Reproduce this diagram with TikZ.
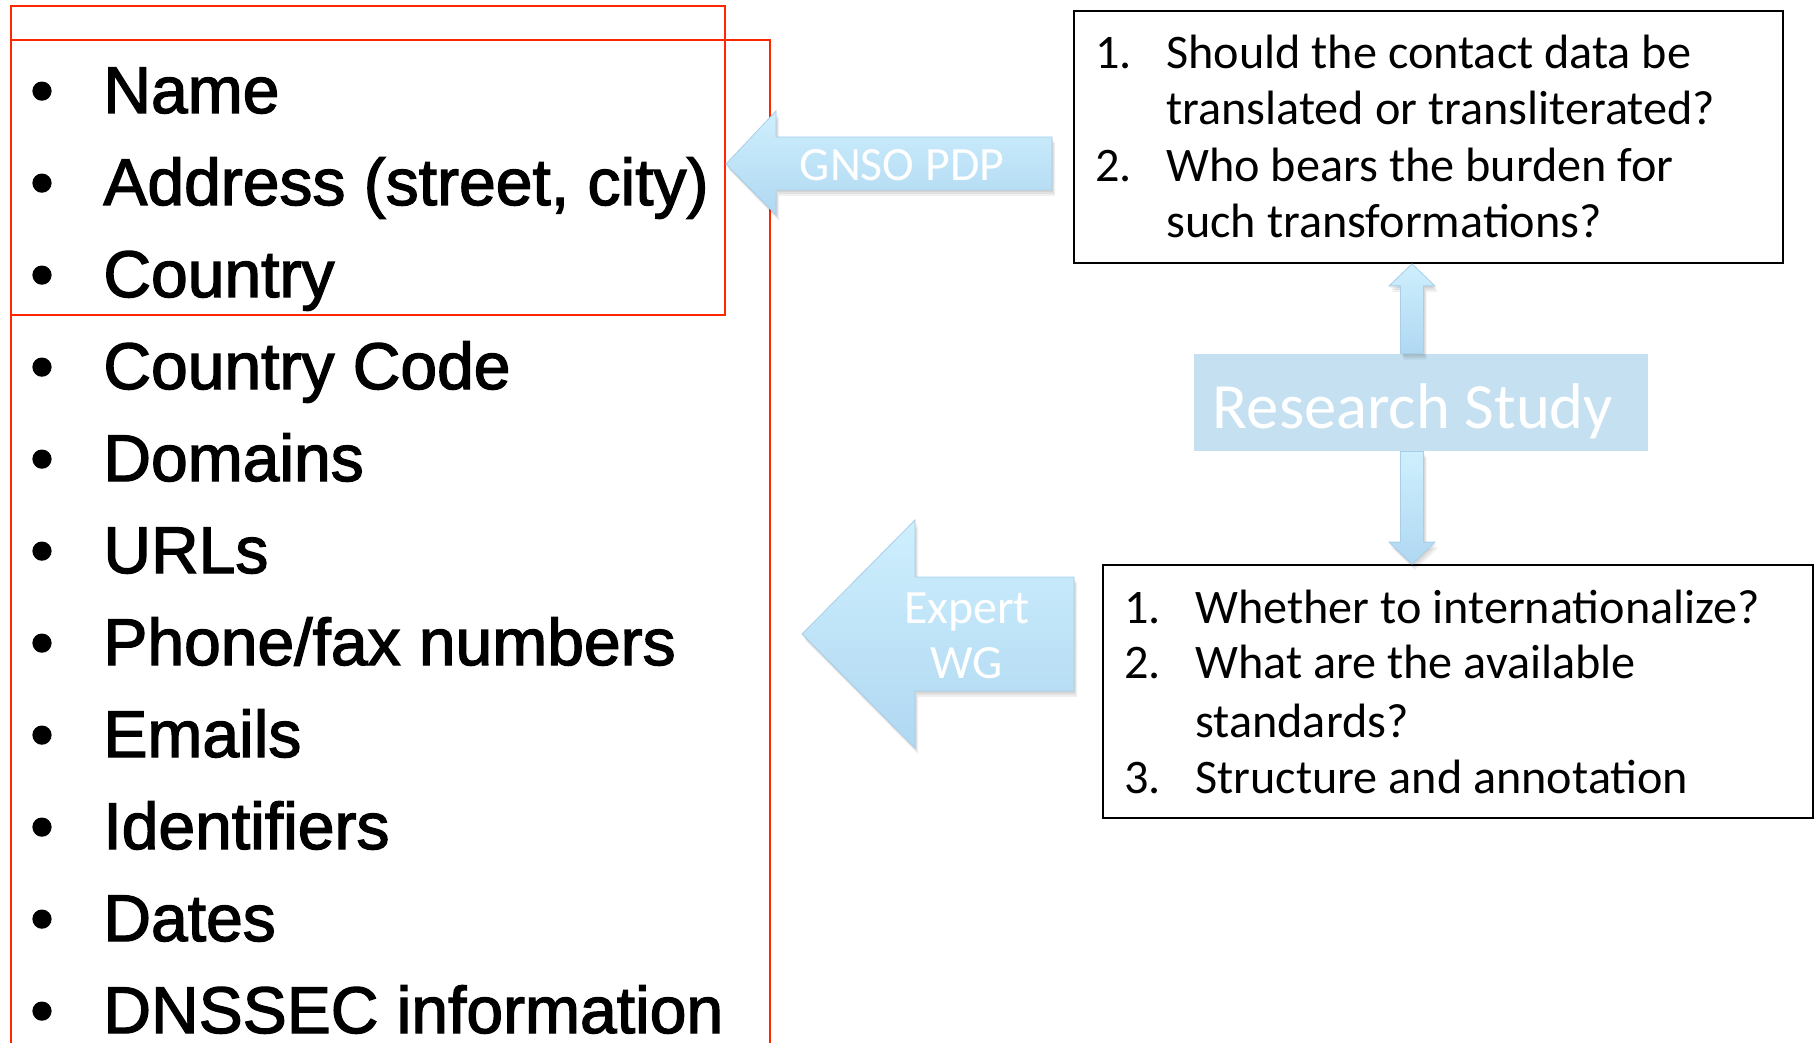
\documentclass[tikz,border=0pt]{standalone}
\usepackage{fontspec}
\setmainfont{Liberation Sans}
\newfontfamily\listfont[FakeBold=2]{Liberation Sans}
\newfontfamily\calibri{Carlito}
\usetikzlibrary{calc}

\definecolor{redline}{RGB}{255,38,0}
\definecolor{arrowtop}{RGB}{206,239,253}
\definecolor{arrowbot}{RGB}{176,216,242}
\definecolor{arrowedge}{RGB}{168,207,233}
\definecolor{studyblue}{RGB}{197,225,241}

% arrow outlines (pixel units)
\newcommand\gnsoshape{(726,164) -- (776,111) -- (776,137) -- (1052,137) -- (1052,190) -- (776,190) -- (776,215) -- cycle}
\newcommand\expertshape{(802,634) -- (915,520) -- (915,577) -- (1074,577) -- (1074,691) -- (915,691) -- (915,748) -- cycle}
% vertical block arrow: #1 tip, #2 tail, #3 head side (+1 below tip, -1 above), #4,#5 offset
\newcommand\vertshape[5]{($(#2)+(-11.5+#4,#5)$) -- ($(#1)+(-11.5+#4,22*#3+#5)$) -- ($(#1)+(-23+#4,22*#3+#5)$) -- ($(#1)+(#4,#5)$) -- ($(#1)+(23+#4,22*#3+#5)$) -- ($(#1)+(11.5+#4,22*#3+#5)$) -- ($(#2)+(11.5+#4,#5)$) -- cycle}

\tikzset{
  redbox/.style={draw=redline, line width=0.8pt},
  qbox/.style={draw=black, line width=0.9pt, inner sep=0pt},
  item/.style={anchor=base west, inner sep=0pt, font=\listfont\fontsize{33}{39}\selectfont},
  dot/.style={anchor=base, inner sep=0pt, font=\listfont\fontsize{33}{39}\selectfont},
  qtext/.style={anchor=base west, inner sep=0pt, font=\calibri\fontsize{24.1}{29}\selectfont},
  arrowbody/.style={top color=arrowtop, bottom color=arrowbot, draw=arrowedge, line width=0.4pt},
  arrowshadow/.style={fill=black, fill opacity=0.06, draw=none},
  arrowlabel/.style={anchor=base, inner sep=0pt, text=white, font=\calibri\fontsize{23.9}{28}\selectfont},
  studybox/.style={fill=studyblue, draw=none, minimum width=227pt, minimum height=48.5pt, inner sep=0pt},
  studytext/.style={anchor=base, inner sep=0pt, text=white, font=\calibri\fontsize{32.3}{37}\selectfont},
}

\begin{document}
\begin{tikzpicture}[x=0.5pt, y=-0.5pt]
\clip (0,0) rectangle (1816,1043);
\fill[white] (0,0) rectangle (1816,1043);

% ---- list of contact data fields ----
\draw[redbox] (11,6) rectangle (725,315);
\draw[redbox] (11,1060) -- (11,40) -- (770,40) -- (770,1060);

\foreach \txt [count=\i from 0] in {Name,{Address (street, city)},Country,Country Code,Domains,URLs,Phone/fax numbers,Emails,Identifiers,Dates,DNSSEC information}{
  \node[dot] (b\i) at (42,113+92*\i) {•};
  \node[item] (f\i) at (103,113+92*\i) {\txt};
}

% ---- question boxes ----
\node[qbox, minimum width=354.5pt, minimum height=126pt] (q1) at (1428.5,137) {};
\node[qtext] (q1n1) at (1095,69) {1.};
\node[qtext] (q1a) at (1166,69) {Should the contact data be};
\node[qtext] (q1b) at (1166,125) {translated or transliterated?};
\node[qtext] (q1n2) at (1095,182) {2.};
\node[qtext] (q1c) at (1166,182) {Who bears the burden for};
\node[qtext] (q1d) at (1166,238) {such transformations?};

\node[qbox, minimum width=355pt, minimum height=126.5pt] (q2) at (1458,691.5) {};
\node[qtext] (q2n1) at (1124,623) {1.};
\node[qtext] (q2a) at (1195,623) {Whether to internationalize?};
\node[qtext] (q2n2) at (1124,678) {2.};
\node[qtext] (q2b) at (1195,678) {What are the available};
\node[qtext] (q2c) at (1195,737) {standards?};
\node[qtext] (q2n3) at (1124,793) {3.};
\node[qtext] (q2d) at (1195,793) {Structure and annotation};

% ---- research study ----
\node[studybox] (rs) at (1421,402.5) {};
\node[studytext] (rstext) at (1413,429) {Research Study};

% ---- arrows ----
\coordinate (upx) at (1412,0);
\coordinate (ut) at (q1.south -| upx);
\coordinate (ub) at (rs.north -| upx);
\coordinate (dt) at (q2.north -| upx);
\coordinate (db) at (rs.south -| upx);

\foreach \s in {1,2,3}{
  \begin{scope}[shift={(\s,2*\s)}]
    \path[arrowshadow] \gnsoshape;
    \path[arrowshadow] \expertshape;
  \end{scope}
  \path[arrowshadow] \vertshape{ut}{ub}{1}{\s}{2*\s};
  \path[arrowshadow] \vertshape{dt}{db}{-1}{\s}{2*\s};
}
\path[arrowbody] \gnsoshape;
\path[arrowbody] \expertshape;
\path[arrowbody] \vertshape{ut}{ub}{1}{0}{0};
\path[arrowbody] \vertshape{dt}{db}{-1}{0}{0};

\node[arrowlabel] (gnso) at (902,181) {GNSO PDP};
\node[arrowlabel] (exp1) at (967,623) {Expert};
\node[arrowlabel] (exp2) at (967,678) {WG};
\end{tikzpicture}
\end{document}
